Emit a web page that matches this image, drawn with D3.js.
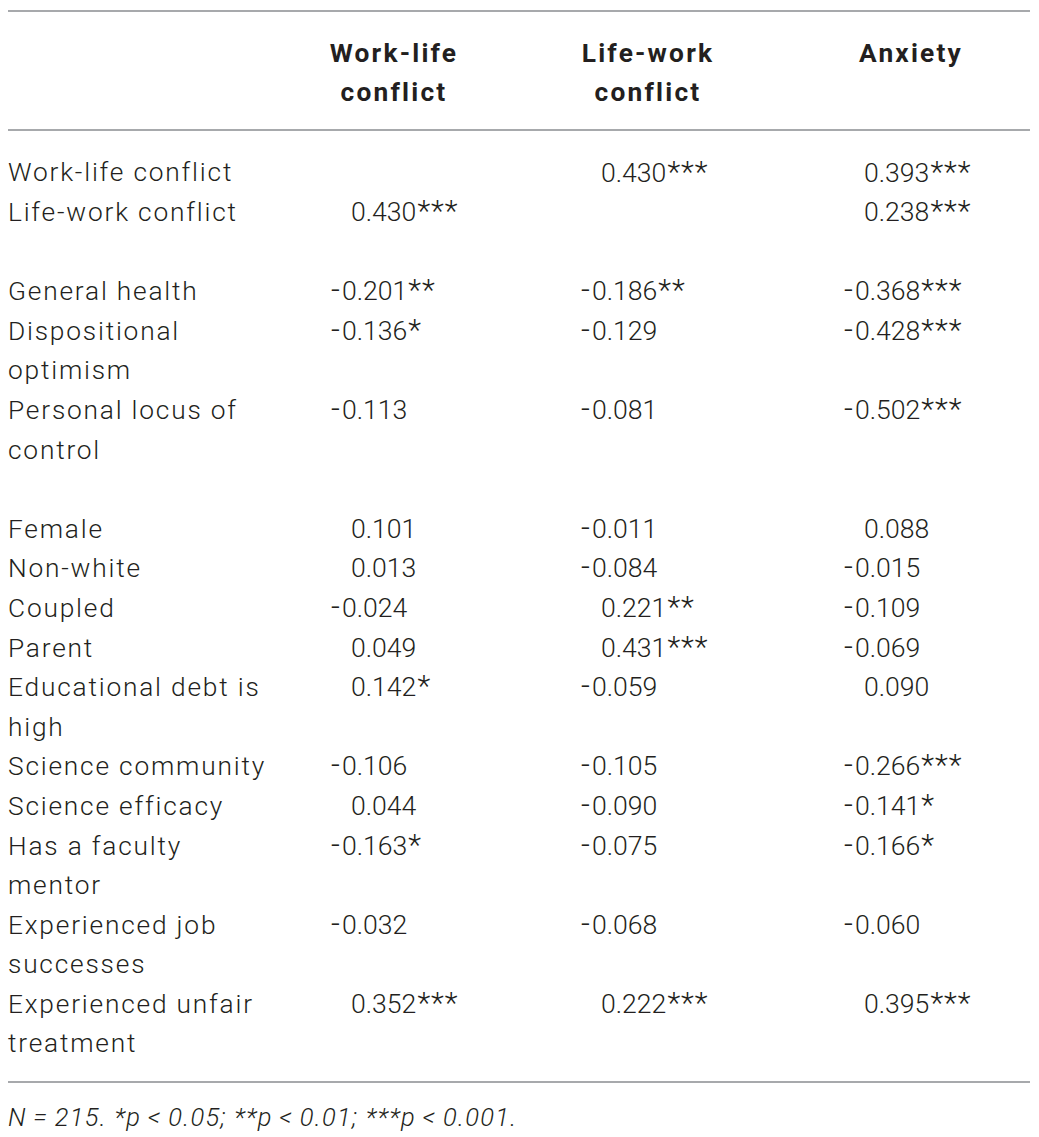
<!DOCTYPE html>
<html>
<head>
<meta charset="utf-8">
<script src="https://cdn.jsdelivr.net/npm/d3@7"></script>
<style>
  body { margin: 0; background: #fff; }
  text { font-family: Roboto, "Liberation Sans", sans-serif; fill: #231f20; }
  .label { font-size: 26.3px; font-weight: 300; letter-spacing: 1.8px; }
  .cell { font-size: 26.6px; font-weight: 300; }
  .minus { font-size: 31px; letter-spacing: 2px; }
  .stars { font-size: 30px; letter-spacing: 1px; }
  .head { font-size: 26.3px; font-weight: 700; letter-spacing: 2.2px; }
  .note { font-size: 25.5px; font-weight: 300; font-style: italic; letter-spacing: 1.3px; }
</style>
</head>
<body>
<script>
var columns = ["Work-life conflict", "Life-work conflict", "Anxiety"];
var headerLines = [["Work-life", "conflict"], ["Life-work", "conflict"], ["Anxiety"]];

var rowLabels = [
  ["Work-life conflict"], ["Life-work conflict"],
  ["General health"], ["Dispositional", "optimism"], ["Personal locus of", "control"],
  ["Female"], ["Non-white"], ["Coupled"], ["Parent"], ["Educational debt is", "high"],
  ["Science community"], ["Science efficacy"], ["Has a faculty", "mentor"],
  ["Experienced job", "successes"], ["Experienced unfair", "treatment"]
];
var rowGroup = [0, 0, 1, 1, 1, 2, 2, 2, 2, 2, 2, 2, 2, 2, 2];

var workLife      = [null, 0.430, -0.201, -0.136, -0.113, 0.101, 0.013, -0.024, 0.049, 0.142, -0.106, 0.044, -0.163, -0.032, 0.352];
var workLifeStars = ["", "***", "**", "*", "", "", "", "", "", "*", "", "", "*", "", "***"];
var lifeWork      = [0.430, null, -0.186, -0.129, -0.081, -0.011, -0.084, 0.221, 0.431, -0.059, -0.105, -0.090, -0.075, -0.068, 0.222];
var lifeWorkStars = ["***", "", "**", "", "", "", "", "**", "***", "", "", "", "", "", "***"];
var anxiety       = [0.393, 0.238, -0.368, -0.428, -0.502, 0.088, -0.015, -0.109, -0.069, 0.090, -0.266, -0.141, -0.166, -0.060, 0.395];
var anxietyStars  = ["***", "***", "***", "***", "***", "", "", "", "", "", "***", "*", "*", "", "***"];

var seriesValues = [workLife, lifeWork, anxiety];
var seriesStars = [workLifeStars, lifeWorkStars, anxietyStars];
var footnote = "N\u2009=\u2009215. *p\u2009<\u20090.05; **p\u2009<\u20090.01; ***p\u2009<\u20090.001.";

var width = 1039, height = 1137;
var svg = d3.select("body").append("svg")
  .attr("width", width)
  .attr("height", height);

// line index of each row, one empty line between groups
var lineIndex = [];
var cur = 0;
rowLabels.forEach(function(l, i) {
  if (i > 0 && rowGroup[i] != rowGroup[i - 1]) cur += 1;
  lineIndex.push(cur);
  cur += l.length;
});

var y = d3.scaleLinear().domain([0, 22]).range([172, 1043]);
var xNum = d3.scaleOrdinal().domain(columns).range([351, 601, 864]);
var xHead = d3.scaleOrdinal().domain(columns).range([394, 648, 911]);

// rules
var rules = [11, 130, 1082];
svg.selectAll(".rule")
  .data(rules)
  .enter().append("line")
  .attr("class", "rule")
  .attr("x1", 8).attr("x2", 1030)
  .attr("y1", function(d) { return d; })
  .attr("y2", function(d) { return d; })
  .attr("stroke", "#a7a9ac")
  .attr("stroke-width", 2);

// header
columns.forEach(function(c, ci) {
  svg.append("text")
    .attr("class", "head")
    .attr("text-anchor", "middle")
    .selectAll("tspan")
    .data(headerLines[ci])
    .enter().append("tspan")
    .attr("x", xHead(c))
    .attr("y", function(d, i) { return 62 + i * 39; })
    .text(function(d) { return d; });
});

// row labels
var rows = svg.selectAll(".row")
  .data(rowLabels)
  .enter().append("g")
  .attr("class", "row");

rows.append("text")
  .attr("class", "label")
  .selectAll("tspan")
  .data(function(d, i) { return d.map(function(t, k) { return {t: t, line: lineIndex[i] + k}; }); })
  .enter().append("tspan")
  .attr("x", 8)
  .attr("y", function(d) { return y(d.line); })
  .attr("dy", "0.36em")
  .text(function(d) { return d.t; });

// values
columns.forEach(function(c, ci) {
  var cells = rowLabels.map(function(l, i) {
    return {v: seriesValues[ci][i], s: seriesStars[ci][i], line: lineIndex[i]};
  }).filter(function(d) { return d.v !== null; });

  var g = svg.append("g").attr("class", "col");

  var t = g.selectAll(".num")
    .data(cells)
    .enter().append("text")
    .attr("class", "cell num")
    .attr("x", function(d) { return d.v < 0 ? xNum(c) - 20 : xNum(c); })
    .attr("y", function(d) { return y(d.line); })
    .attr("dy", "0.36em");

  // short minus sign, set apart from the digits
  t.filter(function(d) { return d.v < 0; })
    .append("tspan")
    .attr("class", "minus")
    .text("-");
  t.append("tspan")
    .text(function(d) { return Math.abs(d.v).toFixed(3); });
  t.append("tspan").attr("class", "stars").attr("dx", 1).text(function(d) { return d.s; });
});

svg.append("text")
  .attr("class", "note")
  .attr("x", 8)
  .attr("y", 1126)
  .text(footnote);
</script>
</body>
</html>
